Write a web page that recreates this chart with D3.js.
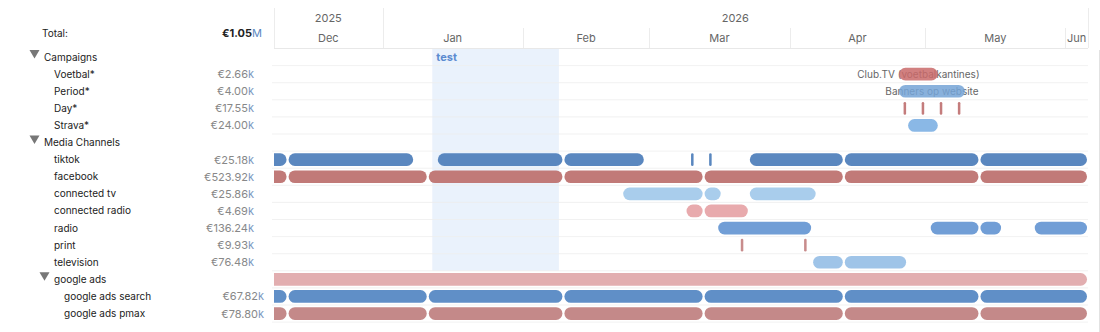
<!DOCTYPE html>
<html>
<head>
<meta charset="utf-8">
<script src="https://cdn.jsdelivr.net/npm/d3@7"></script>
<style>
  body { margin: 0; background: #fff; }
  svg text { font-family: Inter, "Noto Sans", sans-serif; }
</style>
</head>
<body>
<svg id="chart" width="1100" height="332"></svg>
<script>
// left panel rows
const rowLabels = ["Campaigns", "Voetbal*", "Period*", "Day*", "Strava*", "Media Channels",
  "tiktok", "facebook", "connected tv", "connected radio", "radio", "print", "television",
  "google ads", "google ads search", "google ads pmax"];
const rowLevels = [0, 1, 1, 1, 1, 0, 1, 1, 1, 1, 1, 1, 1, 1, 2, 2];
const rowToggles = ["Campaigns", "Media Channels", "google ads"];
const rowSpend = [null, 2.66, 4.00, 17.55, 24.00, null, 25.18, 523.92, 25.86, 4.69, 136.24,
  9.93, 76.48, null, 67.82, 78.80]; // €k
const totalSpend = 1.05; // €M

// time axis
const viewStart = "2025-12-08", viewEnd = "2026-06-06";
const yearStarts = ["2025-12-08", "2026-01-01"];
const yearLabels = ["2025", "2026"];
const monthStarts = ["2025-12-08", "2026-01-01", "2026-02-01", "2026-03-01", "2026-04-01", "2026-05-01", "2026-06-01"];
const monthLabels = ["Dec", "Jan", "Feb", "Mar", "Apr", "May", "Jun"];

// highlighted period
const markStart = "2026-01-12", markEnd = "2026-02-09", markLabel = "test";

// flights per row [row, start, end]
const monthly = [["2025-11-11", "2025-12-11"], ["2025-12-11", "2026-01-11"], ["2026-01-11", "2026-02-10"],
  ["2026-02-10", "2026-03-13"], ["2026-03-13", "2026-04-13"], ["2026-04-13", "2026-05-13"], ["2026-05-13", "2026-06-06"]];
const flights = [
  ["Voetbal*", "2026-04-25", "2026-05-04"],
  ["Period*", "2026-04-25", "2026-05-10"],
  ["Day*", "2026-04-26", "2026-04-27"], ["Day*", "2026-04-30", "2026-05-01"],
  ["Day*", "2026-05-04", "2026-05-05"], ["Day*", "2026-05-08", "2026-05-09"],
  ["Strava*", "2026-04-27", "2026-05-04"],
  ["tiktok", "2025-11-11", "2025-12-11"], ["tiktok", "2025-12-11", "2026-01-08"],
  ["tiktok", "2026-01-13", "2026-02-10"], ["tiktok", "2026-02-10", "2026-02-28"],
  ["tiktok", "2026-03-10", "2026-03-11"], ["tiktok", "2026-03-14", "2026-03-15"],
  ["tiktok", "2026-03-23", "2026-04-13"], ["tiktok", "2026-04-13", "2026-05-13"],
  ["tiktok", "2026-05-13", "2026-06-06"],
  ...monthly.map(m => ["facebook", m[0], m[1]]),
  ["connected tv", "2026-02-23", "2026-03-13"], ["connected tv", "2026-03-13", "2026-03-17"],
  ["connected tv", "2026-03-23", "2026-04-07"],
  ["connected radio", "2026-03-09", "2026-03-13"], ["connected radio", "2026-03-13", "2026-03-23"],
  ["radio", "2026-03-16", "2026-04-06"], ["radio", "2026-05-02", "2026-05-13"],
  ["radio", "2026-05-13", "2026-05-18"], ["radio", "2026-05-25", "2026-06-06"],
  ["print", "2026-03-21", "2026-03-22"], ["print", "2026-04-04", "2026-04-05"],
  ["television", "2026-04-06", "2026-04-13"], ["television", "2026-04-13", "2026-04-27"],
  ["google ads", "2025-11-01", "2026-06-06"],
  ...monthly.map(m => ["google ads search", m[0], m[1]]),
  ...monthly.map(m => ["google ads pmax", m[0], m[1]])
];
const flightNotes = { "Voetbal*": "Club.TV (voetbalkantines)", "Period*": "Banners op website" };

const rowColors = {
  "Voetbal*": "#c96a6a", "Period*": "#74a3d6", "Day*": "#c47c7c", "Strava*": "#8ab8e6",
  "tiktok": "#5a87bf", "facebook": "#c17a78", "connected tv": "#a9cdec", "connected radio": "#e8aaad",
  "radio": "#719ed6", "print": "#c88c8c", "television": "#9fc4e8", "google ads": "#e2aeb0",
  "google ads search": "#608fc7", "google ads pmax": "#c48989"
};

const parse = d3.utcParse("%Y-%m-%d");
const svg = d3.select("#chart");
const left = 274, right = 1088;

const x = d3.scaleUtc().domain([parse(viewStart), parse(viewEnd)]).range([left, right]);
const y = d3.scaleBand().domain(rowLabels).range([48.5, 48.5 + 17.1 * rowLabels.length]);
const barH = y.bandwidth() * 0.74;

// highlighted band
svg.append("rect")
  .attr("x", x(parse(markStart))).attr("y", y.range()[0])
  .attr("width", x(parse(markEnd)) - x(parse(markStart)))
  .attr("height", y("google ads") - y.range()[0])
  .attr("fill", "#eaf2fc");
svg.append("text")
  .attr("x", x(parse(markStart)) + 4).attr("y", y("Campaigns") + 12.5)
  .attr("fill", "#5b8bd0").attr("font-size", 11).attr("font-weight", 700)
  .text(markLabel);

// row separators
svg.append("g").selectAll("line")
  .data(rowLabels.slice(1).concat(["end"]))
  .join("line")
  .attr("x1", left - 2).attr("x2", right)
  .attr("y1", (d, i) => y.range()[0] + y.step() * (i + 1))
  .attr("y2", (d, i) => y.range()[0] + y.step() * (i + 1))
  .attr("stroke", "#eeeeee").attr("stroke-opacity", 0.8);

// header
const hdr = svg.append("g");
hdr.append("line").attr("x1", left).attr("x2", right).attr("y1", 48.5).attr("y2", 48.5).attr("stroke", "#e8e8e8");
const yearEdges = yearStarts.map(d => x(parse(d))).concat([right]);
const monthEdges = monthStarts.map(d => x(parse(d))).concat([right]);
yearEdges.forEach(e => hdr.append("line").attr("x1", Math.round(e) + 0.5).attr("x2", Math.round(e) + 0.5)
  .attr("y1", 8).attr("y2", 48).attr("stroke", "#ececec"));
monthEdges.forEach(e => hdr.append("line").attr("x1", Math.round(e) + 0.5).attr("x2", Math.round(e) + 0.5)
  .attr("y1", 28).attr("y2", 48).attr("stroke", "#ececec"));
hdr.selectAll("text.year").data(yearLabels).join("text")
  .attr("class", "year")
  .attr("x", (d, i) => (yearEdges[i] + yearEdges[i + 1]) / 2).attr("y", 22)
  .attr("text-anchor", "middle").attr("font-size", 11).attr("fill", "#666")
  .text(d => d);
hdr.selectAll("text.month").data(monthLabels).join("text")
  .attr("class", "month")
  .attr("x", (d, i) => (monthEdges[i] + monthEdges[i + 1]) / 2).attr("y", 42)
  .attr("text-anchor", "middle").attr("font-size", 11).attr("fill", "#666")
  .text(d => d);
svg.append("line").attr("x1", 1099.5).attr("x2", 1099.5).attr("y1", 50).attr("y2", 332).attr("stroke", "#e2e2e2");

// flights
svg.append("clipPath").attr("id", "clip").append("rect")
  .attr("x", left).attr("y", 0).attr("width", right - left).attr("height", 332);
const plot = svg.append("g").attr("clip-path", "url(#clip)");

const notes = Object.keys(flightNotes).map(k => flights.find(f => f[0] === k));
plot.selectAll("text.note").data(notes).join("text")
  .attr("class", "note")
  .attr("x", d => (x(parse(d[1])) + x(parse(d[2]))) / 2)
  .attr("y", d => y(d[0]) + y.bandwidth() / 2 + 3.5)
  .attr("text-anchor", "middle").attr("font-size", 10).attr("fill", "#666")
  .text(d => flightNotes[d[0]]);

plot.selectAll("rect.flight").data(flights).join("rect")
  .attr("class", "flight")
  .each(function (d) {
    const x0 = x(parse(d[1])) + 1, x1 = x(parse(d[2])) - 1;
    const w = Math.max(x1 - x0, 2.5);
    d3.select(this)
      .attr("x", x0).attr("width", w)
      .attr("y", y(d[0]) + (y.bandwidth() - barH) / 2).attr("height", barH)
      .attr("rx", Math.min(barH / 2, w / 2))
      .attr("fill", rowColors[d[0]])
      .attr("fill-opacity", flightNotes[d[0]] ? 0.85 : 1);
  });

// left panel
const panel = svg.append("g");
panel.append("text").attr("x", 42).attr("y", 37).attr("font-size", 10).attr("fill", "#222").text("Total:");
const tot = panel.append("text").attr("x", 262).attr("y", 37).attr("text-anchor", "end")
  .attr("font-size", 11).attr("fill", "#222");
tot.append("tspan").attr("font-weight", 700).text("€" + totalSpend.toFixed(2));
tot.append("tspan").attr("fill", "#5a87bf").text("M");

rowLabels.forEach((r, i) => {
  const lvl = rowLevels[i];
  const cy = y(r) + y.bandwidth() / 2;
  const tx = lvl === 0 ? 44 : (lvl === 1 ? 54 : 64);
  if (rowToggles.includes(r)) {
    const ax = lvl === 0 ? 29.5 : 39.5;
    panel.append("path")
      .attr("d", `M${ax},${cy - 7} L${ax + 10},${cy - 7} L${ax + 5},${cy + 1.5} Z`)
      .attr("fill", "#777");
  }
  panel.append("text").attr("x", tx).attr("y", cy + 3.5).attr("font-size", 10).attr("fill", "#222").text(r);
  if (rowSpend[i] != null) {
    const t = panel.append("text").attr("x", lvl === 2 ? 264 : 254).attr("y", cy + 4)
      .attr("text-anchor", "end").attr("font-size", 11).attr("fill", "#888");
    t.append("tspan").text("€" + rowSpend[i].toFixed(2));
    t.append("tspan").attr("fill", "#7b98c2").text("k");
  }
});
</script>
</body>
</html>
